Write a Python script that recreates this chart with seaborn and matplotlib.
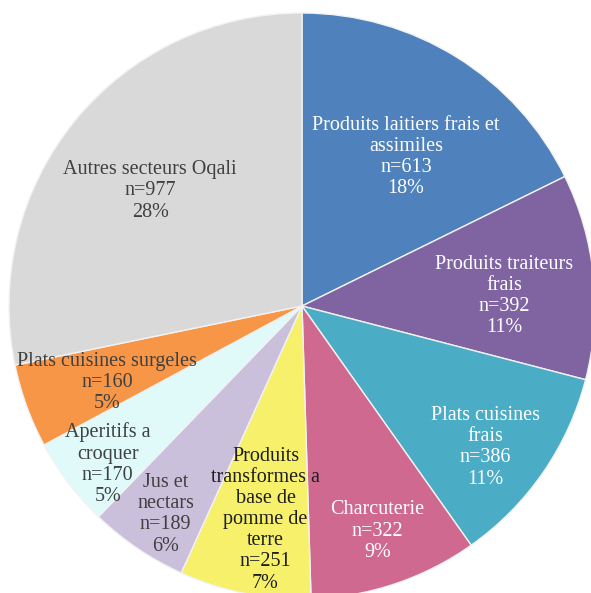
import numpy as np
import matplotlib
matplotlib.use("Agg")
import matplotlib.pyplot as plt
import seaborn as sns

sns.set_theme(style="white")
plt.rcParams['font.family'] = ['Liberation Serif', 'DejaVu Serif']

categories = [
    "Produits laitiers frais et\nassimiles",
    "Produits traiteurs\nfrais",
    "Plats cuisines\nfrais",
    "Charcuterie",
    "Produits\ntransformes a\nbase de\npomme de\nterre",
    "Jus et\nnectars",
    "Aperitifs a\ncroquer",
    "Plats cuisines surgeles",
    "Autres secteurs Oqali",
]
counts = [613, 392, 386, 322, 251, 189, 170, 160, 977]
percents = ["18%", "11%", "11%", "9%", "7%", "6%", "5%", "5%", "28%"]

colors = ["#4F81BD", "#8064A2", "#4BACC6", "#D0698F", "#F6F06B",
          "#CBC0DB", "#E0FAFA", "#F79646", "#D9D9D9"]
text_colors = ["white", "white", "white", "white", "#1E1E1E",
               "#404040", "#404040", "#404040", "#404040"]
label_dist = [0.62, 0.69, 0.79, 0.81, 0.74, 0.85, 0.855, 0.715, 0.65]
label_dang = [-3, -3, -3, 0, 1.6, 1, 2, 1.5, 2]

fig = plt.figure(figsize=(5.91, 5.93), dpi=100)
ax = fig.add_axes([0, 0, 1, 1])
cx, cy, r = 302, 287, 293
wedges, _ = ax.pie(counts, colors=colors, startangle=90, counterclock=False,
                   center=(cx, cy), radius=r,
                   wedgeprops=dict(edgecolor="#F2F2F2", linewidth=1.0))
for w, cat, n, p, tc, d, da in zip(wedges, categories, counts, percents,
                                    text_colors, label_dist, label_dang):
    mid = np.deg2rad((w.theta1 + w.theta2) / 2 + da)
    x = cx + d * r * np.cos(mid)
    y = cy + d * r * np.sin(mid)
    ax.text(x, y, f"{cat}\nn={n}\n{p}", ha="center", va="center",
            color=tc, fontsize=14.5, linespacing=1.15)
ax.set_xlim(0, 591)
ax.set_ylim(0, 593)
ax.set_aspect("equal")
ax.axis("off")
fig.savefig("out.png", dpi=100)
